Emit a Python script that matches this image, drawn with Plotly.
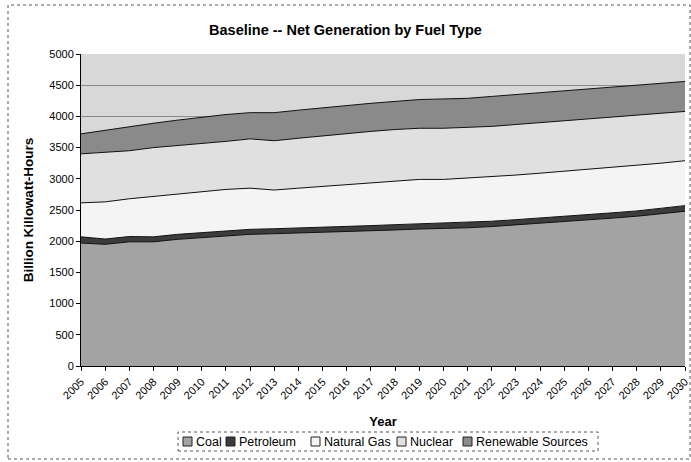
import plotly.graph_objects as go

# values (billion kWh)
years = list(range(2005, 2031))
coal = [1970, 1950, 1990, 1990, 2030, 2060, 2090, 2110, 2120, 2130, 2140, 2150, 2165,
        2180, 2195, 2200, 2215, 2235, 2260, 2285, 2310, 2340, 2370, 2400, 2440, 2480]
petroleum = [100, 85, 85, 80, 80, 80, 80, 80, 80, 80, 80, 80, 85,
             85, 85, 85, 85, 85, 85, 85, 85, 85, 85, 85, 90, 90]
natural_gas = [545, 595, 605, 650, 650, 650, 660, 660, 620, 640, 660, 680, 690,
               705, 710, 705, 710, 710, 715, 720, 725, 725, 725, 725, 720, 720]
nuclear = [785, 790, 770, 780, 770, 770, 770, 790, 790, 800, 810, 820, 820,
           820, 820, 820, 810, 810, 810, 810, 810, 810, 810, 810, 800, 790]
renewable = [320, 360, 380, 390, 410, 430, 430, 420, 450, 450, 450, 450, 450,
             450, 460, 470, 470, 480, 480, 480, 480, 480, 480, 480, 480, 480]

names = ["Coal", "Petroleum", "Natural Gas", "Nuclear", "Renewable Sources"]
colors = ["#a3a3a3", "#3c3c3c", "#f4f4f4", "#e0e0e0", "#8a8a8a"]
values = [coal, petroleum, natural_gas, nuclear, renewable]

FONT = "Arial, Liberation Sans, sans-serif"
W, H = 691, 462
L, R, T, B = 81, 6, 54, 96
PW, PH = W - L - R, H - T - B


def px(x):
    return (x - L) / PW


def py(y):
    return (H - B - y) / PH


fig = go.Figure()
for name, vals, col in zip(names, values, colors):
    fig.add_trace(go.Scatter(
        x=years, y=vals, name=name, mode="lines",
        stackgroup="one", fillcolor=col, showlegend=False,
        line=dict(color="#111111", width=1),
    ))

fig.update_layout(
    width=W, height=H,
    margin=dict(l=L, r=R, t=T, b=B, autoexpand=False),
    paper_bgcolor="white",
    plot_bgcolor="#d8d8d8",
    font=dict(family=FONT, color="black", size=11),
    title=dict(text="<b>Baseline -- Net Generation by Fuel Type</b>",
               x=0.5, xanchor="center", y=1 - 30 / H, yanchor="middle",
               font=dict(size=14.5)),
)

fig.update_xaxes(
    range=[2004.9999, 2030.0001], tickmode="array", tickvals=years,
    ticktext=[str(y) for y in years], automargin=False,
    ticklabeloverflow="allow",
    tickangle=-45, ticks="outside", ticklen=4, tickcolor="black",
    showline=True, linecolor="black", linewidth=1, showgrid=False,
    tickfont=dict(size=11),
    title=dict(text="<b>Year</b>", font=dict(size=13), standoff=16),
)
fig.update_yaxes(
    range=[0, 5000], dtick=500, ticks="outside", ticklen=4, tickcolor="black",
    showline=True, linecolor="black", linewidth=1, automargin=False,
    showgrid=True, gridcolor="#8a8a8a", gridwidth=1,
    tickfont=dict(size=11),
    title=dict(text="<b>Billion Killowatt-Hours</b>", font=dict(size=13.5), standoff=12),
)

# outer chart frame
fig.add_shape(type="rect", xref="paper", yref="paper",
              x0=px(8), x1=px(690), y0=py(459), y1=py(5),
              line=dict(color="#555555", width=1, dash="dot"), layer="below")

# legend box drawn by hand (small square swatches like the original)
fig.add_shape(type="rect", xref="paper", yref="paper",
              x0=px(178), x1=px(598), y0=py(451), y1=py(432),
              line=dict(color="#555555", width=1, dash="dot"), fillcolor="white")
swatch_x = [183, 226, 311, 397, 463]
for name, col, sx in zip(names, colors, swatch_x):
    fig.add_shape(type="rect", xref="paper", yref="paper",
                  x0=px(sx), x1=px(sx + 9), y0=py(446), y1=py(437),
                  line=dict(color="#222222", width=1), fillcolor=col)
    fig.add_annotation(xref="paper", yref="paper", x=px(sx + 11), y=py(441.5),
                       text=name, showarrow=False, xanchor="left", yanchor="middle",
                       font=dict(size=12.5, family=FONT))

fig.write_html("out.html", config={"displayModeBar": False},
               post_script="document.body.style.margin='0';")
